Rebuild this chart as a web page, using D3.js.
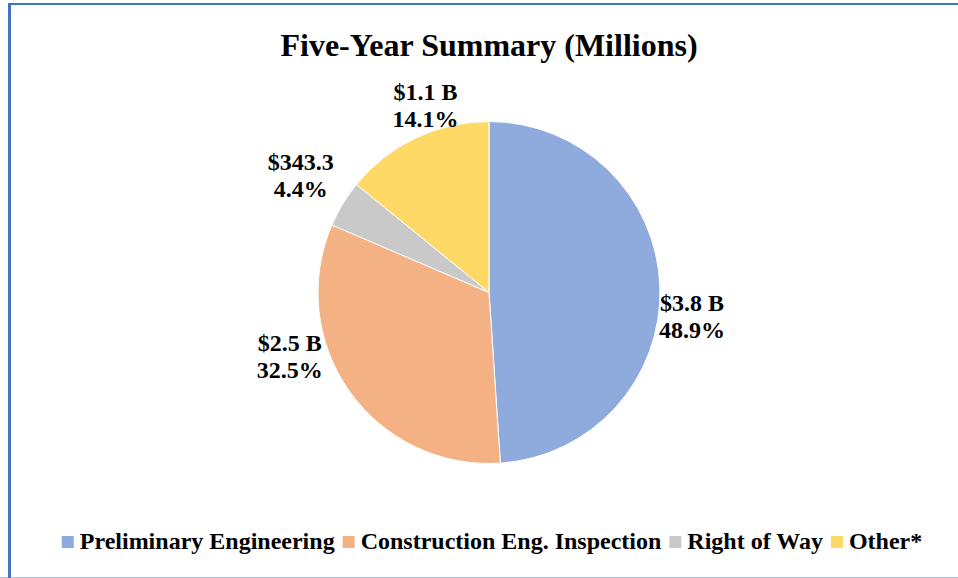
<!DOCTYPE html>
<html>
<head>
<meta charset="UTF-8">
<script src="https://cdn.jsdelivr.net/npm/d3@7"></script>
<style>
body{
    margin:0;
    background-color:#fff;
}
text{
    font-family: "Liberation Serif", "Times New Roman", Times, serif;
    font-weight:bold;
    fill:#000;
}
</style>
</head>
<body>
<script>

// values in millions
var categories = ["Preliminary Engineering", "Construction Eng. Inspection", "Right of Way", "Other*"];
var values = [3800, 2525, 343.3, 1096];
var valueLabels = ["$3.8 B", "$2.5 B", "$343.3", "$1.1 B"];
var pctLabels = ["48.9%", "32.5%", "4.4%", "14.1%"];
var colors = ["#8FAADC", "#F4B183", "#C9C9C9", "#FFD966"];

var width = 958,
    height = 578,
    cx = 489,
    cy = 292.5,
    radius = 171;

// nudges so labels sit where the original put them
var labelNudge = [[-3, 31], [-31, -54], [-12, -10], [25, 0]];

var svg = d3.select("body").append("svg")
    .attr("width", width)
    .attr("height", height);

// frame
svg.append("line")
    .attr("x1", 0).attr("y1", 577.5).attr("x2", width).attr("y2", 577.5)
    .attr("stroke", "#A9BFE6").attr("stroke-width", 1);
svg.append("line")
    .attr("x1", 8).attr("y1", 4).attr("x2", width).attr("y2", 4)
    .attr("stroke", "#4472C4").attr("stroke-width", 2);
svg.append("line")
    .attr("x1", 9.5).attr("y1", 3).attr("x2", 9.5).attr("y2", 578)
    .attr("stroke", "#4472C4").attr("stroke-width", 3);

svg.append("text")
    .attr("x", cx)
    .attr("y", 56)
    .attr("font-size", 32)
    .attr("text-anchor", "middle")
    .text("Five-Year Summary (Millions)");

var pie = d3.pie().sort(null).value(function(d){ return d; });
var arcs = pie(values);

var arc = d3.arc().innerRadius(0).outerRadius(radius);
var labelArc = d3.arc().innerRadius(radius + 35).outerRadius(radius + 35);

var g = svg.append("g")
    .attr("transform", "translate(" + cx + "," + cy + ")");

g.selectAll(".slice")
    .data(arcs)
    .enter().append("path")
    .attr("class", "slice")
    .attr("d", arc)
    .attr("fill", function(d, i){ return colors[i]; })
    .attr("stroke", "#fff")
    .attr("stroke-width", 1);

var labels = g.selectAll(".lbl")
    .data(arcs)
    .enter().append("text")
    .attr("class", "lbl")
    .attr("font-size", 24)
    .attr("text-anchor", "middle")
    .attr("transform", function(d, i){
        var c = labelArc.centroid(d);
        return "translate(" + (c[0] + labelNudge[i][0]) + "," + (c[1] + labelNudge[i][1]) + ")";
    });
labels.append("tspan").attr("x", 0).attr("y", -6).text(function(d, i){ return valueLabels[i]; });
labels.append("tspan").attr("x", 0).attr("y", 21).text(function(d, i){ return pctLabels[i]; });

// legend, laid out by measured text widths and centred
var legend = svg.append("g");
var lx = 0;
categories.forEach(function(c, i){
    var item = legend.append("g").attr("transform", "translate(" + lx + ",0)");
    item.append("rect")
        .attr("x", 0).attr("y", -13)
        .attr("width", 12).attr("height", 12)
        .attr("fill", colors[i]);
    var t = item.append("text")
        .attr("x", 18).attr("y", 0)
        .attr("font-size", 24)
        .text(c);
    lx += 18 + t.node().getComputedTextLength() + 8;
});
lx -= 8;
legend.attr("transform", "translate(" + (492 - lx / 2) + ",549)");

</script>
</body>
</html>
